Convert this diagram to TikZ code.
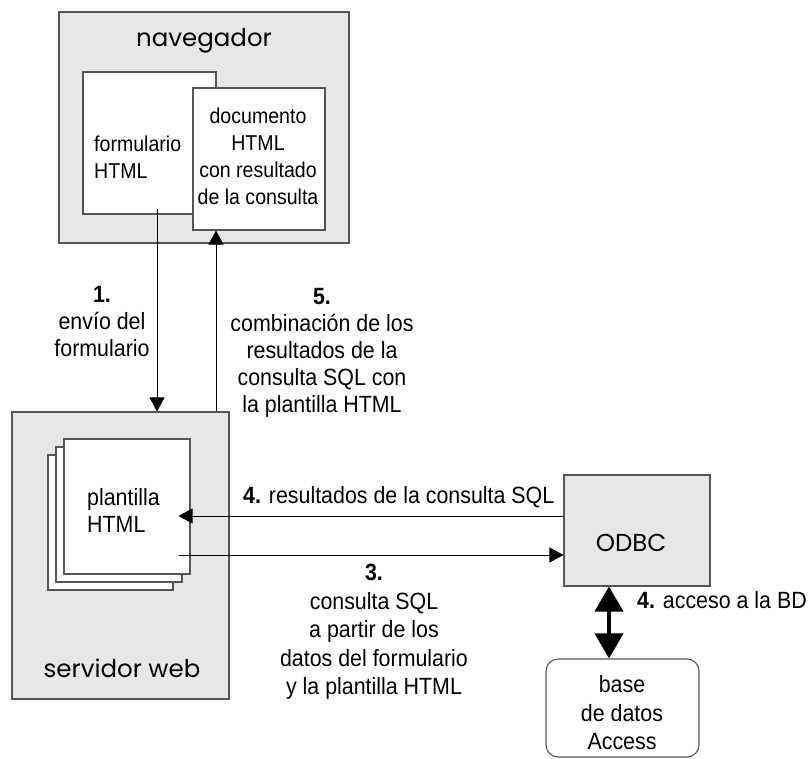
\documentclass[tikz,border=0pt]{standalone}
\usepackage{fontspec}
\setmainfont[FakeStretch=0.91]{Liberation Sans}
\newfontfamily\geo{Poppins}
\usetikzlibrary{arrows.meta}
\definecolor{boxgray}{HTML}{E6E7E8}
\definecolor{edge}{HTML}{555555}
\begin{document}
\begin{tikzpicture}[x=1pt,y=-1pt,
  graybox/.style={draw=edge, fill=boxgray, line width=1.1pt, inner sep=0pt},
  page/.style={draw=edge, fill=white, line width=1.1pt, inner sep=0pt},
  lbl/.style={font=\fontsize{23.5}{27}\selectfont, align=center, inner sep=0pt},
  inlbl/.style={font=\fontsize{21.5}{27}\selectfont, align=center, inner sep=0pt},
  boxtitle/.style={font=\geo\fontsize{24.5}{28}\selectfont, inner sep=0pt},
  arr/.style={-{Triangle[length=14pt,width=15pt]}, line width=0.9pt},
  dbl/.style={{Triangle[length=25pt,width=28pt]}-{Triangle[length=25pt,width=28pt]}, line width=4pt}
]
\useasboundingbox (0,0) rectangle (811,758);

% navegador
\node[graybox, minimum width=290pt, minimum height=231pt] (nav) at (204,127.5) {};
\node[boxtitle] (navt) at (204,41) {navegador};
\node[page, minimum width=133pt, minimum height=142pt] (form) at (149.5,143) {};
\node[inlbl, anchor=west, align=left] (formt) at (94,157) {formulario\\HTML};
\node[page, minimum width=132pt, minimum height=142pt] (doc) at (259,159) {};
\node[inlbl] (doct) at (258,156) {documento\\HTML\\con resultado\\de la consulta};

% servidor web
\node[graybox, minimum width=217pt, minimum height=287pt] (serv) at (120.5,555.5) {};
\node[page, minimum width=125pt, minimum height=135pt] (back) at (110.5,522.5) {};
\node[page, minimum width=126pt, minimum height=135pt] (mid) at (119,514.5) {};
\node[page, minimum width=126pt, minimum height=135pt] (front) at (127,506.5) {};
\node[lbl, anchor=west, align=left] (plt) at (87,510) {plantilla\\HTML};
\node[boxtitle] (servt) at (122,668) {servidor web};

% ODBC
\node[graybox, minimum width=146pt, minimum height=111pt] (odbc) at (637,530.5) {};
\node[boxtitle] (odbct) at (631,543) {ODBC};

% base de datos
\node[draw=edge, fill=white, rounded corners=12pt, line width=1.1pt, inner sep=0pt, minimum width=153pt, minimum height=98pt] (bd) at (622.5,708) {};
\node[lbl, font=\fontsize{23.5}{28.5}\selectfont] (bdt) at (622,713) {base\\de datos\\Access};

% labels
\node[lbl] (l1) at (102,322) {\textbf{1.}\\envío del\\formulario};
\node[lbl] (l5) at (322,353) {\textbf{5.}\\combinación de los\\resultados de la\\consulta SQL con\\la plantilla HTML};
\node[lbl, anchor=west] (l4) at (243,497) {\textbf{4.} resultados de la consulta SQL};
\node[lbl, font=\fontsize{23.5}{28.5}\selectfont] (l3) at (374,632) {\textbf{3.}\\consulta SQL\\a partir de los\\datos del formulario\\y la plantilla HTML};
\node[lbl, anchor=west] (l4b) at (637,600) {\textbf{4.} acceso a la BD};

% connectors
\path ([shift={(7.5,-6)}]form.south) coordinate (a1s);
\draw[arr] (a1s) -- (a1s |- serv.north);
\path ([xshift=-43pt]doc.south) coordinate (a5e);
\draw[arr] (a5e |- serv.north) -- (a5e);
\path ([xshift=-12pt]front.east) coordinate (f4);
\path ([yshift=14.5pt]odbc.west) coordinate (o4);
\path ([yshift=-24.5pt]odbc.west) coordinate (o3);
\draw[arr] (o4) -- (o4 -| f4);
\draw[arr] (o3 -| f4) -- (o3);
\path ([xshift=-28pt]odbc.south) coordinate (dbx);
\draw[dbl] (dbx) -- (dbx |- bd.north);
\end{tikzpicture}
\end{document}
